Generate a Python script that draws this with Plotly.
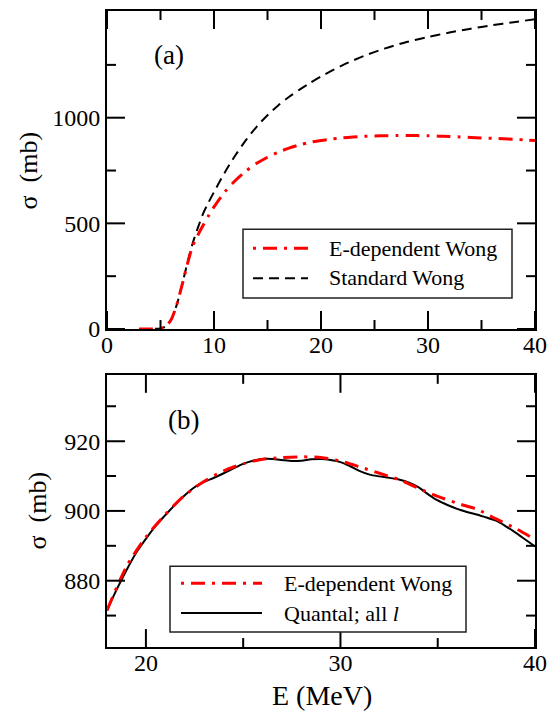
import plotly.graph_objects as go

# ---- data -------------------------------------------------------------
# Panel (a): fusion cross sections over the full energy range
energy_a = [3, 4, 5, 5.5, 6, 6.5, 7, 7.5, 8, 8.5, 9, 9.5, 10, 11, 12, 13, 14,
            15, 16, 17, 18, 19, 20, 21, 22, 23, 24, 25, 26, 27, 28, 29, 30,
            31, 32, 33, 34, 35, 36, 37, 38, 39, 40]
sigma_edep_a = [0, 0.3, 3, 13, 45, 112, 205, 305, 392, 445, 492, 537, 578,
                648, 703, 748, 784, 813, 837, 856, 871.5, 884, 892.5, 899,
                904.5, 908.5, 911.5, 913.5, 914.8, 915.3, 915.5, 915.3, 914.3,
                912.6, 910.8, 909, 906.5, 904.2, 902.2, 900.5, 897.7, 895,
                891.8]

energy_std = [3, 4, 5, 5.5, 6, 6.5, 7, 7.5, 8, 8.5, 9, 9.5, 10, 11, 12, 13,
              14, 15, 16, 17, 18, 19, 20, 22, 24, 26, 28, 30, 32, 34, 36, 38,
              40]
sigma_std = [0, 0.3, 3, 13, 45, 112, 205, 310, 405, 480, 548, 600, 648, 740,
             822, 895, 958, 1012, 1058, 1098, 1133, 1165, 1195, 1248, 1292,
             1328, 1358, 1382, 1403, 1421, 1438, 1452, 1466]

# Panel (b): close-up of the high-energy region
energy_b = [18, 19, 20, 21, 22, 23, 24, 25, 26, 27, 28, 29, 30, 31, 32, 33,
            34, 35, 36, 37, 38, 39, 40]
sigma_edep_b = [871.5, 884, 892.5, 899, 904.5, 908.5, 911.5, 913.5, 914.8,
                915.3, 915.5, 915.3, 914.3, 912.6, 910.8, 909, 906.5, 904.2,
                902.2, 900.5, 897.7, 895, 891.8]

energy_q = [18, 18.5, 19, 19.5, 20, 20.5, 21, 21.5, 22, 22.5, 23, 23.5, 24,
            24.5, 25, 25.5, 26, 26.5, 27, 27.5, 28, 28.5, 29, 29.5, 30, 30.5,
            31, 31.5, 32, 32.5, 33, 33.5, 34, 34.5, 35, 35.5, 36, 36.5, 37,
            37.5, 38, 38.5, 39, 39.5, 40]
sigma_quantal = [871.5, 877.5, 883, 888, 892, 895.7, 898.8, 901.8, 904.5,
                 906.8, 908.3, 909.5, 910.8, 912.2, 913.5, 914.4, 914.9,
                 914.9, 914.6, 914.3, 914.4, 914.8, 914.9, 914.6, 914, 912.8,
                 911.4, 910.4, 909.9, 909.5, 909, 908.2, 906.8, 904.8, 903,
                 901.7, 900.6, 899.7, 899, 898.1, 897.2, 895.6, 893.8, 891.8,
                 889.8]

# axis ranges, labelled ticks and unlabelled minor ticks
range_a_x = [0, 40]
major_a_x = [0, 10, 20, 30, 40]
minor_a_x = [5, 15, 25, 35]
range_a_y = [0, 1505]
major_a_y = [0, 500, 1000]
minor_a_y = [250, 750, 1250]
range_b_x = [18, 40]
major_b_x = [20, 30, 40]
minor_b_x = [25, 35]
range_b_y = [861, 939]
major_b_y = [880, 900, 920]
minor_b_y = [870, 890, 910, 930]

# ---- styling ------------------------------------------------------------
W, H = 559, 711
ML, MR, MT, MB = 107, 24, 9, 64
PLOT_W = W - ML - MR
PANEL_A_TOP, PANEL_A_BOTTOM = 9, 328
PANEL_B_TOP, PANEL_B_BOTTOM = 374, 647
FONT = "Liberation Serif"
RED = "#ff0000"
DASHDOT = "14px,7px,3px,7px"
DASH = "10px,6px"
MAJOR_LEN, MINOR_LEN = 18, 9


def px(x):
    return (x - ML) / PLOT_W


def py(y):
    return (H - MB - y) / (H - MT - MB)


fig = go.Figure()

fig.add_trace(go.Scatter(x=energy_std, y=sigma_std, mode="lines",
                         line=dict(color="black", width=2, dash=DASH,
                                   shape="spline", smoothing=0.8),
                         xaxis="x", yaxis="y", showlegend=False))
fig.add_trace(go.Scatter(x=energy_a, y=sigma_edep_a, mode="lines",
                         line=dict(color=RED, width=3, dash=DASHDOT,
                                   shape="spline", smoothing=0.8),
                         xaxis="x", yaxis="y", showlegend=False))

fig.add_trace(go.Scatter(x=energy_q, y=sigma_quantal, mode="lines",
                         line=dict(color="black", width=2,
                                   shape="spline", smoothing=0.8),
                         xaxis="x2", yaxis="y2", showlegend=False))
fig.add_trace(go.Scatter(x=energy_b, y=sigma_edep_b, mode="lines",
                         line=dict(color=RED, width=3, dash=DASHDOT,
                                   shape="spline", smoothing=0.8),
                         xaxis="x2", yaxis="y2", showlegend=False))


def axis(rng, vals, standoff, **kw):
    return dict(
        range=rng, tickmode="array", tickvals=vals, ticks="",
        showline=True, linecolor="black", linewidth=2, mirror=True,
        showgrid=False, zeroline=False, ticklabelstandoff=standoff,
        tickfont=dict(family=FONT, size=24, color="black"),
        **kw)


fig.update_layout(
    width=W, height=H,
    margin=dict(l=ML, r=MR, t=MT, b=MB),
    paper_bgcolor="white", plot_bgcolor="white",
    xaxis=axis(range_a_x, major_a_x, -7, domain=[0, 1], anchor="y"),
    yaxis=axis(range_a_y, major_a_y, 0, domain=[py(PANEL_A_BOTTOM), 1],
               anchor="x"),
    xaxis2=axis(range_b_x, major_b_x, -7, domain=[0, 1], anchor="y2"),
    yaxis2=axis(range_b_y, major_b_y, 0, domain=[0, py(PANEL_B_TOP)],
                anchor="x2"),
)


def tick_marks(xa, ya, xvals, yvals, length, panel_h):
    """Inward tick marks on all four sides of the (xa, ya) subplot."""
    out = []
    style = dict(type="line", layer="above",
                 line=dict(color="black", width=2))
    fy = length / panel_h
    fx = length / PLOT_W
    for v in xvals:
        for a, b in ((0, fy), (1, 1 - fy)):
            out.append(dict(style, xref=xa, x0=v, x1=v,
                            yref=ya + " domain", y0=a, y1=b))
    for v in yvals:
        for a, b in ((0, fx), (1, 1 - fx)):
            out.append(dict(style, yref=ya, y0=v, y1=v,
                            xref=xa + " domain", x0=a, x1=b))
    return out


h_a = PANEL_A_BOTTOM - PANEL_A_TOP
h_b = PANEL_B_BOTTOM - PANEL_B_TOP
shapes = []
shapes += tick_marks("x", "y", major_a_x, major_a_y, MAJOR_LEN, h_a)
shapes += tick_marks("x", "y", minor_a_x, minor_a_y, MINOR_LEN, h_a)
shapes += tick_marks("x2", "y2", major_b_x, major_b_y, MAJOR_LEN, h_b)
shapes += tick_marks("x2", "y2", minor_b_x, minor_b_y, MINOR_LEN, h_b)

legend_shapes = [
    # legend frames
    dict(type="rect", x0=px(243), x1=px(512), y0=py(297), y1=py(228),
         line=dict(color="#222222", width=1.5), fillcolor="white"),
    dict(type="rect", x0=px(170), x1=px(466), y0=py(632), y1=py(566),
         line=dict(color="#222222", width=1.5), fillcolor="white"),
    # legend samples
    dict(type="line", x0=px(253), x1=px(308), y0=py(247), y1=py(247),
         line=dict(color=RED, width=3, dash="3px,7px,14px,7px")),
    dict(type="line", x0=px(253), x1=px(308), y0=py(277), y1=py(277),
         line=dict(color="black", width=2, dash=DASH)),
    dict(type="line", x0=px(181), x1=px(262), y0=py(583), y1=py(583),
         line=dict(color=RED, width=3, dash="3px,7px,14px,7px")),
    dict(type="line", x0=px(181), x1=px(262), y0=py(613), y1=py(613),
         line=dict(color="black", width=2)),
]
for s in legend_shapes:
    s.update(xref="paper", yref="paper", layer="above")
shapes += legend_shapes
fig.update_layout(shapes=shapes)

annotations = [
    dict(text="(a)", x=px(169), y=py(53), font=dict(size=27)),
    dict(text="(b)", x=px(183), y=py(419), font=dict(size=27)),
    dict(text="σ  (mb)", x=px(28), y=py(169), textangle=-90,
         font=dict(size=26)),
    dict(text="σ  (mb)", x=px(37), y=py(510), textangle=-90,
         font=dict(size=26)),
    dict(text="E (MeV)", x=px(322), y=py(696), font=dict(size=28)),
    # legend texts
    dict(text="E-dependent Wong", x=px(327), y=py(247), xanchor="left",
         font=dict(size=22)),
    dict(text="Standard Wong", x=px(327), y=py(276), xanchor="left",
         font=dict(size=22)),
    dict(text="E-dependent Wong", x=px(282), y=py(583), xanchor="left",
         font=dict(size=22)),
    dict(text="Quantal; all <i>l</i>", x=px(282), y=py(613), xanchor="left",
         font=dict(size=22)),
]
for a in annotations:
    a.setdefault("xanchor", "center")
    a.update(xref="paper", yref="paper", yanchor="middle", showarrow=False)
    a["font"] = dict(family=FONT, color="black", **a["font"])
fig.update_layout(annotations=annotations)

fig.write_html("out.html")
